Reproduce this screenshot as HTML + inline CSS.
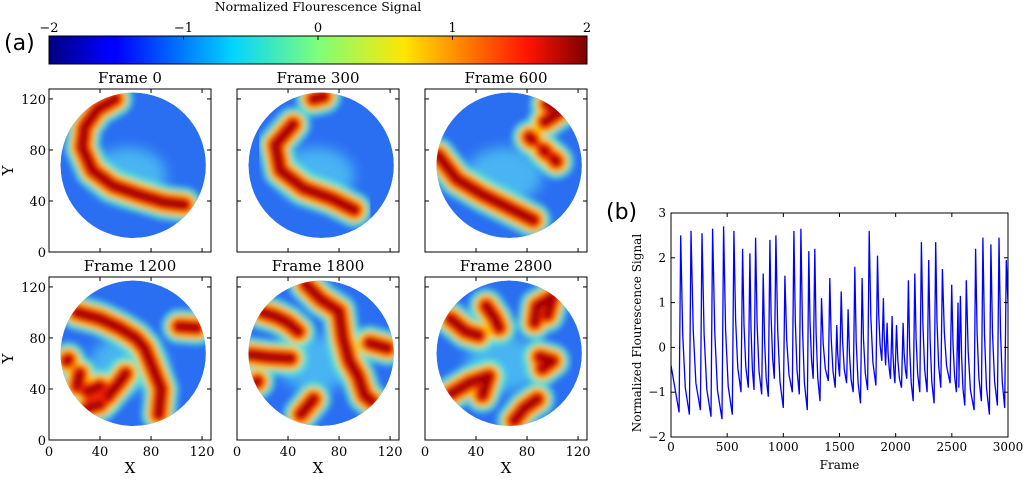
<!DOCTYPE html>
<html><head><meta charset="utf-8"><style>
html,body{margin:0;padding:0;background:#fff;}
svg text{font-family:"DejaVu Serif","Liberation Serif",serif;}
</style></head><body>
<svg width="1024" height="475" viewBox="0 0 1024 475" xmlns="http://www.w3.org/2000/svg">
<defs>
<linearGradient id="jet" x1="0" x2="1" y1="0" y2="0">
<stop offset="0" stop-color="#00007f"/><stop offset="0.11" stop-color="#0000ff"/>
<stop offset="0.125" stop-color="#0000ff"/><stop offset="0.34" stop-color="#00d4ff"/>
<stop offset="0.5" stop-color="#7dff7a"/><stop offset="0.66" stop-color="#ffe600"/>
<stop offset="0.89" stop-color="#ff1300"/><stop offset="1" stop-color="#7f0000"/>
</linearGradient>
<filter id="blur" x="-20%" y="-20%" width="140%" height="140%"><feGaussianBlur stdDeviation="2"/></filter>
<filter id="blur2" x="-30%" y="-30%" width="160%" height="160%"><feGaussianBlur stdDeviation="5"/></filter>
</defs>
<text x="4" y="50" font-size="22" style="font-family:'DejaVu Sans',sans-serif">(a)</text>
<text x="606" y="219" font-size="22" style="font-family:'DejaVu Sans',sans-serif">(b)</text>
<g id="cbar">
<text x="318" y="11" font-size="12.5" text-anchor="middle">Normalized Flourescence Signal</text>
<rect x="49" y="36" width="538" height="28" fill="url(#jet)" stroke="#000" stroke-width="1"/>
</g>
<g id="maps"></g>
<g id="line"></g>
</svg>
<script>
const NS='http://www.w3.org/2000/svg';
function mk(tag,attrs,parent){const e=document.createElementNS(NS,tag);for(const k in attrs)e.setAttribute(k,attrs[k]);if(parent)parent.appendChild(e);return e;}
const cbTicks=['\u22122','\u22121','0','1','2'];
const cb=document.getElementById('cbar');
cbTicks.forEach((t,i)=>{const x=49+i*538/4;
 const tk=mk('line',{x1:x,x2:x,y1:36,y2:40,stroke:'#000'},cb);
 
 
 const tx=mk('text',{x:x,y:32,'font-size':13,'text-anchor':'middle'},cb);tx.textContent=t;
 
 });

const frameTitles=['Frame 0','Frame 300','Frame 600','Frame 1200','Frame 1800','Frame 2800'];
const panelX=[49,237,425,49,237,425];
const panelRowTop=[89,89,89,277,277,277];
const features=[
 [[[52,120],[38,112],[28,98],[26,82],[34,64],[50,52],[70,45],[90,39],[106,37]]],
 [[[60,120],[68,122]],[[44,100],[30,84],[34,64],[52,50],[74,42],[92,33]]],
 [[[10,76],[25,57],[45,45],[65,35],[85,25]],[[96,116],[106,110],[94,102]],[[82,90],[84,88]],[[93,80],[95,78]],[[101,73],[103,71]]],
 [[[22,100],[40,95],[55,88],[68,80],[75,72],[82,55],[88,40],[86,20]],[[102,89],[116,88]],[[24,52],[22,42]],[[30,38],[40,42]],[[45,33],[55,45],[60,52]],[[30,25],[40,28]],[[14,62],[15,63]]],
 [[[54,122],[66,110],[80,101],[83,80],[88,62],[95,50],[100,35],[106,30]],[[20,100],[30,97],[40,92],[48,85]],[[10,67],[25,65],[42,64]],[[60,32],[50,20]],[[104,76],[118,72]],[[15,45],[16,46]]],
 [[[20,95],[32,85],[42,82]],[[48,105],[55,95],[58,88]],[[86,92],[88,105],[100,112],[96,98]],[[90,65],[100,62],[92,56]],[[20,36],[35,45],[50,50],[45,35]],[[70,15],[78,25],[88,32]]]
];
const maps=document.getElementById('maps');
frameTitles.forEach((title,p)=>{
 const x0=panelX[p],y0=panelRowTop[p],w=162,h=163,s=w/127;
 const g=mk('g',{},maps);
 
 
 const cid='c'+p;
 const cp=mk('clipPath',{id:cid},g);
 mk('circle',{cx:66,cy:68,r:57},cp);
 const inner=mk('g',{transform:`translate(${x0},${y0+h}) scale(${s},${-s})`},g);
 const dg=mk('g',{'clip-path':`url(#${cid})`},inner);
 mk('circle',{cx:66,cy:68,r:57,fill:'#2a6ef2'},dg);
 const lt=mk('g',{filter:'url(#blur2)'},dg);
 mk('ellipse',{cx:62,cy:60,rx:30,ry:22,fill:'#4cc0f2',opacity:0.85},lt);
 const fg=mk('g',{filter:'url(#blur)','fill':'none','stroke-linecap':'round','stroke-linejoin':'round'},dg);
 features[p].forEach(f=>{const d='M'+f.map(q=>q.join(',')).join(' L');
  mk('path',{d:d,stroke:'#60e6d0','stroke-width':28,opacity:0.8},fg);});
 features[p].forEach(f=>{const d='M'+f.map(q=>q.join(',')).join(' L');
  mk('path',{d:d,stroke:'#ffc800','stroke-width':19},fg);});
 features[p].forEach(f=>{const d='M'+f.map(q=>q.join(',')).join(' L');
  mk('path',{d:d,stroke:'#f02000','stroke-width':13},fg);
  mk('path',{d:d,stroke:'#a00000','stroke-width':6},fg);});
 mk('rect',{x:x0,y:y0,width:w,height:h,fill:'none',stroke:'#000'},g);
 const tt=mk('text',{x:x0+w/2,y:y0-6,'font-size':15,'text-anchor':'middle'},g);tt.textContent=title;
 
 
 [0,40,80,120].forEach(v=>{const px=x0+v*s,py=y0+h-v*s;
  mk('line',{x1:px,x2:px,y1:y0+h,y2:y0+h-4,stroke:'#000'},g);
  mk('line',{x1:px,x2:px,y1:y0,y2:y0+4,stroke:'#000'},g);
  mk('line',{x1:x0,x2:x0+4,y1:py,y2:py,stroke:'#000'},g);
  mk('line',{x1:x0+w,x2:x0+w-4,y1:py,y2:py,stroke:'#000'},g);
  if(p===0||p===3){const t=mk('text',{x:x0-3,y:py+5,'font-size':13,'text-anchor':'end'},g);t.textContent=v;
   
   }
  if(p>=3){const t=mk('text',{x:px,y:y0+h+16,'font-size':13,'text-anchor':'middle'},g);t.textContent=v;
   
   }
 });
 if(p>=3){const t=mk('text',{x:x0+w/2,y:473,'font-size':15,'text-anchor':'middle'},g);t.textContent='X';
  
  }
 if(p===0||p===3){const t=mk('text',{x:13,y:y0+h/2,'font-size':15,'text-anchor':'middle',transform:`rotate(-90 13 ${y0+h/2})`},g);t.textContent='Y';
  
  }
});

const peakFrames=[86,178,276,370,468,560,637,702,753,821,880,934,1014,1094,1156,1227,1280,1340,1414,1476,1515,1577,1636,1701,1764,1838,1891,1924,1968,2007,2066,2113,2170,2229,2294,2356,2416,2499,2555,2576,2629,2712,2777,2848,2920,2985];
const peakValues=[2.5,2.6,2.55,2.65,2.7,2.6,2.2,2.1,2.45,1.65,2.4,2.5,1.6,2.6,2.65,2.15,2.2,1.1,1.55,0.5,1.25,0.85,1.8,1.55,2.6,2.05,1.1,0.55,0.7,0.5,0.55,1.5,1.65,2.35,1.95,2.35,1.75,1.4,1.0,1.15,1.5,2.2,2.45,2.3,2.45,1.95];
const troughValues=[-1.45,-1.5,-1.4,-1.55,-1.6,-1.5,-1.0,-0.9,-0.95,-1.05,-1.1,-0.7,-1.35,-1.0,-1.05,-1.4,-0.7,-1.2,-0.75,-0.9,-0.65,-0.8,-1.0,-1.25,-0.95,-0.85,-0.3,-0.4,-0.7,-0.8,-0.9,-0.7,-1.2,-1.0,-1.0,-1.25,-0.9,-0.8,-1.0,-0.9,-1.3,-1.4,-1.2,-1.5,-1.3,-1.35];
const startValue=-0.4, endValue=1.0;
const xTicks=[0,500,1000,1500,2000,2500,3000];
const yTicks=[-2,-1,0,1,2,3];

const L=671,R=1008,T=213,B=437;
const xs=v=>L+(v/3000)*(R-L);
const ys=v=>B-((v+2)/5)*(B-T);
const lg=document.getElementById('line');


const pts=[[0,startValue]];
peakFrames.forEach((f,i)=>{
 const prev=i>0?peakFrames[i-1]:0;
 const tf=Math.max(prev+4,f-14);
 pts.push([tf,troughValues[i]]);
 pts.push([f,peakValues[i]]);
 const next=i<peakFrames.length-1?peakFrames[i+1]:3000;
 const tnext=i<peakFrames.length-1?troughValues[i+1]:endValue;
 if(i<peakFrames.length-1){
  pts.push([f+(next-f)*0.2,tnext+(peakValues[i]-tnext)*0.45]);
  pts.push([f+(next-f)*0.45,tnext+(peakValues[i]-tnext)*0.15]);
 }
});
pts.push([3000,endValue]);
const cp2=mk('clipPath',{id:'lineclip'},lg);mk('rect',{x:L,y:T,width:R-L,height:B-T},cp2);
const path=mk('path',{d:'M'+pts.map(q=>xs(q[0]).toFixed(1)+','+ys(q[1]).toFixed(1)).join(' L'),fill:'none',stroke:'#0000ff','stroke-width':1.3,'clip-path':'url(#lineclip)'},lg);


mk('rect',{x:L,y:T,width:R-L,height:B-T,fill:'none',stroke:'#000'},lg);
xTicks.forEach(v=>{const x=xs(v);
 mk('line',{x1:x,x2:x,y1:B,y2:B-4,stroke:'#000'},lg);mk('line',{x1:x,x2:x,y1:T,y2:T+4,stroke:'#000'},lg);
 const t=mk('text',{x:x,y:B+14,'font-size':12,'text-anchor':'middle'},lg);t.textContent=v;
 
 });
yTicks.forEach(v=>{const y=ys(v);
 mk('line',{x1:L,x2:L+4,y1:y,y2:y,stroke:'#000'},lg);mk('line',{x1:R,x2:R-4,y1:y,y2:y,stroke:'#000'},lg);
 const t=mk('text',{x:L-5,y:y+4,'font-size':12,'text-anchor':'end'},lg);t.textContent=v<0?'\u2212'+(-v):v;
 
 });
const xt=mk('text',{x:(L+R)/2,y:469,'font-size':12,'text-anchor':'middle'},lg);xt.textContent='Frame';


const yt=mk('text',{x:641,y:(T+B)/2+8,'font-size':12,'text-anchor':'middle',transform:`rotate(-90 641 ${(T+B)/2+8})`},lg);yt.textContent='Normalized Flourescence Signal';


</script>
</body></html>
